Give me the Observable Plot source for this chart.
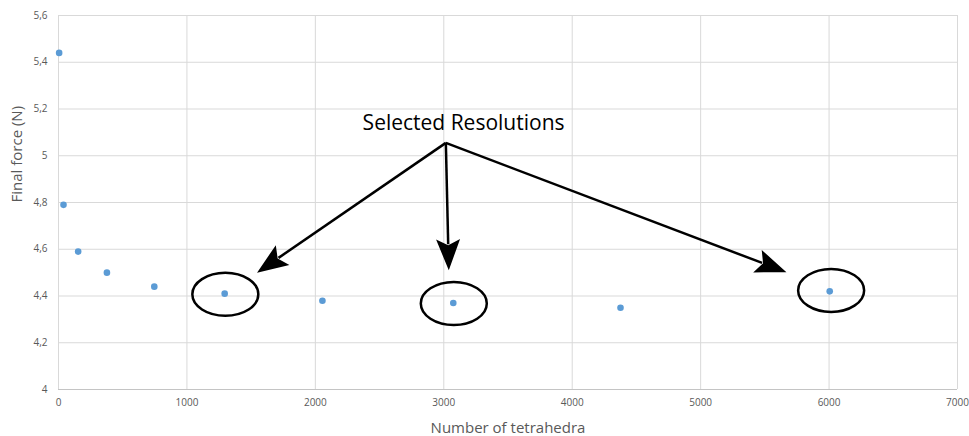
<!DOCTYPE html>
<html><head><meta charset="utf-8">
<script src="https://cdn.jsdelivr.net/npm/d3@7"></script>
<script src="https://cdn.jsdelivr.net/npm/@observablehq/plot@0.6"></script>
<style>body{margin:0;background:#fff}</style>
</head><body><div id="chart"></div>
<script>
// ---- data ----
const tetrahedra = [5, 39, 153, 377, 746, 1294, 2055, 3074, 4376, 6005];
const finalForce = [5.44, 4.79, 4.59, 4.50, 4.44, 4.41, 4.38, 4.37, 4.35, 4.42];
const xTicks = [0, 1000, 2000, 3000, 4000, 5000, 6000, 7000];
const yTicks = [4, 4.2, 4.4, 4.6, 4.8, 5, 5.2, 5.4, 5.6];
const xTitle = "Number of tetrahedra";
const yTitle = "Final force (N)";
// annotation (data coordinates)
const noteText = "Selected Resolutions";
const noteX = [3154];
const noteY = [5.139];
const arrowStartX = 3016;
const arrowStartY = 5.055;
const arrowTipX = [1546, 3039, 5668];
const arrowTipY = [4.50, 4.51, 4.502];
const ringX = [1299, 3078, 6016];
const ringY = [4.407, 4.368, 4.424];

// ---- layout ----
const W = 969, H = 436, ML = 58, MR = 12, MT = 15, MB = 47;
const xDomain = [0, 7000], yDomain = [4, 5.6];
const sx = d3.scaleLinear(xDomain, [ML, W - MR]);
const sy = d3.scaleLinear(yDomain, [H - MB, MT]);

const points = tetrahedra.map((x, i) => ({x, y: finalForce[i]}));
const rings = ringX.map((x, i) => ({x, y: ringY[i]}));

// arrowhead geometry (px)
const HL = 31, HW = 12, HN = 6;
const arrows = arrowTipX.map((tx, i) => {
  const ty = arrowTipY[i];
  const dx = sx(tx) - sx(arrowStartX), dy = sy(ty) - sy(arrowStartY);
  const len = Math.hypot(dx, dy);
  const f = 1 - (HL - HN + 1) / len;
  return {
    x1: arrowStartX, y1: arrowStartY,
    x2: arrowStartX + (tx - arrowStartX) * f,
    y2: arrowStartY + (ty - arrowStartY) * f,
    tx, ty, angle: Math.atan2(dy, dx)
  };
});

function headSymbol(a) {
  const c = Math.cos(a), s = Math.sin(a);
  const p = ([u, v]) => [u * c - v * s, u * s + v * c];
  const pts = [[0, 0], [-HL, -HW], [-HL + HN, 0], [-HL, HW]].map(p);
  return {draw(ctx) {
    ctx.moveTo(...pts[0]);
    for (let k = 1; k < pts.length; k++) ctx.lineTo(...pts[k]);
    ctx.closePath();
  }};
}
const ellipseSymbol = {draw(ctx) {
  const rx = 33, ry = 21.5, k = 0.5523;
  ctx.moveTo(rx, 0);
  ctx.bezierCurveTo(rx, ry * k, rx * k, ry, 0, ry);
  ctx.bezierCurveTo(-rx * k, ry, -rx, ry * k, -rx, 0);
  ctx.bezierCurveTo(-rx, -ry * k, -rx * k, -ry, 0, -ry);
  ctx.bezierCurveTo(rx * k, -ry, rx, -ry * k, rx, 0);
  ctx.closePath();
}};

const fmt = d => String(d).replace(".", ",");
const grid = "#d9d9d9";

const chart = Plot.plot({
  width: W, height: H,
  marginLeft: ML, marginRight: MR, marginTop: MT, marginBottom: MB,
  style: {fontFamily: "'Open Sans', sans-serif", fontSize: "10px", color: "#595959", background: "#fff"},
  x: {domain: xDomain, ticks: xTicks, tickSize: 0, tickPadding: 9, tickFormat: fmt, label: null},
  y: {domain: yDomain, ticks: yTicks, tickSize: 0, tickPadding: 11, tickFormat: fmt, label: null},
  marks: [
    Plot.ruleX(xTicks, {stroke: grid, strokeWidth: 1}),
    Plot.ruleY(yTicks, {stroke: grid, strokeWidth: 1}),
    Plot.ruleY([yDomain[0]], {stroke: "#c4c4c4", strokeWidth: 1}),
    Plot.dot(points, {x: "x", y: "y", r: 3.3, fill: "#5b9bd5", stroke: "none"}),
    Plot.dot(rings, {x: "x", y: "y", symbol: ellipseSymbol, fill: "none", stroke: "#000", strokeWidth: 2.5}),
    Plot.link(arrows, {x1: "x1", y1: "y1", x2: "x2", y2: "y2", stroke: "#000", strokeWidth: 2.5, strokeLinecap: "butt"}),
    ...arrows.map(a => Plot.dot([a], {x: "tx", y: "ty", symbol: headSymbol(a.angle), fill: "#000", stroke: "none"})),
    Plot.text([noteText], {x: noteX, y: noteY, text: d => d, fontSize: 21, fill: "#000", textAnchor: "middle"}),
    Plot.text([xTitle], {frameAnchor: "bottom", dy: 43, fontSize: 15, fill: "#595959"}),
    Plot.text([yTitle], {frameAnchor: "left", dx: -41, rotate: -90, fontSize: 15, fill: "#595959"})
  ]
});
document.getElementById("chart").appendChild(chart);
</script>
</body></html>
